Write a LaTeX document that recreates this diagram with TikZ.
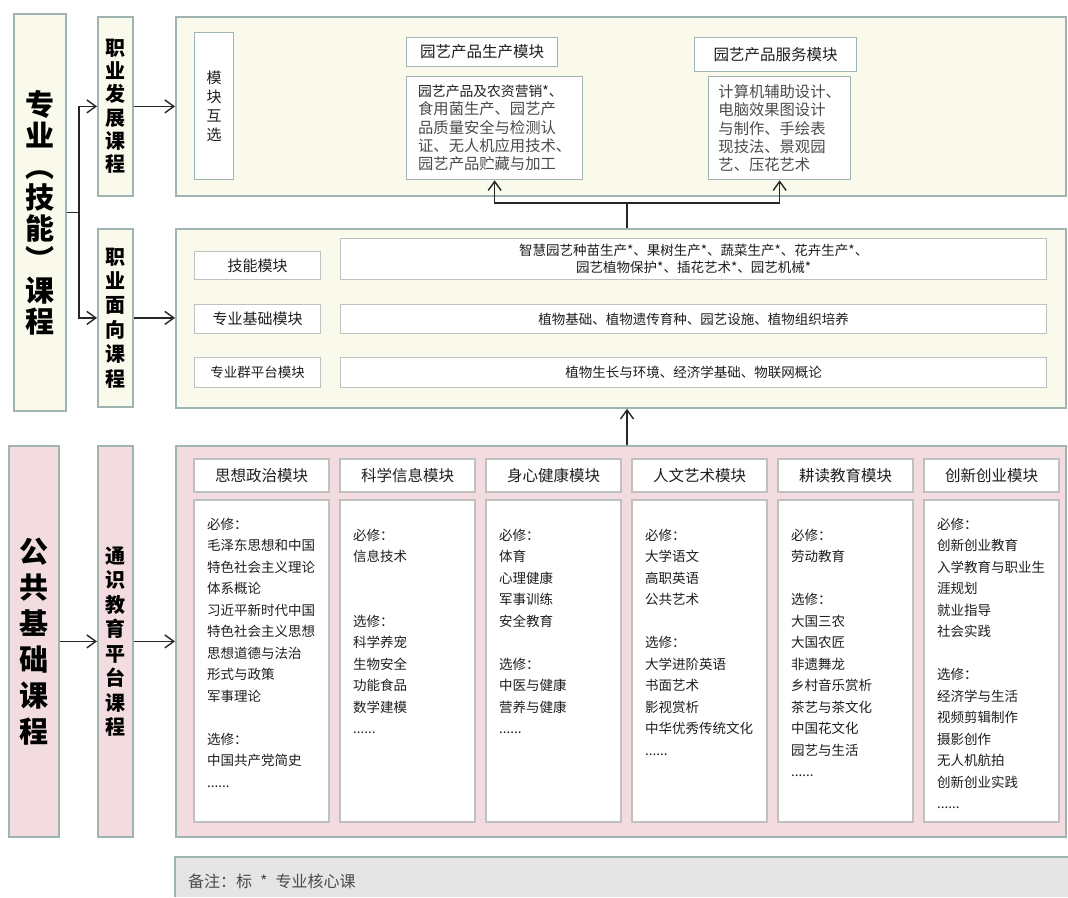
\documentclass[tikz,border=0pt]{standalone}
\usepackage{fontspec}
\setmainfont{Noto Sans CJK SC}
\usepackage{xcolor}
\usetikzlibrary{arrows.meta,positioning}
\definecolor{ivory}{RGB}{250,250,236}
\definecolor{pinkbg}{RGB}{242,220,223}
\definecolor{frame}{RGB}{160,180,178}
\definecolor{boxline}{RGB}{192,192,192}
\definecolor{notebg}{RGB}{229,229,229}
\definecolor{txt}{RGB}{30,30,30}
\definecolor{soft}{RGB}{75,75,75}

\begin{document}
\begin{tikzpicture}[x=1pt, y=-1pt, node distance=146pt,
  >={Straight Barb[length=9pt,width=13pt]},
  every node/.style={inner sep=0pt, text=txt},
  panel/.style={draw=frame, line width=1.8pt, anchor=north west},
  vlabel/.style={panel, align=center, text=black},
  subbox/.style={draw=frame, line width=1.3pt, fill=white, anchor=north west, align=left, font=\fontsize{15.5}{18}\selectfont},
  rowbox/.style={draw=boxline, line width=1.3pt, fill=white, anchor=north west, align=center, font=\fontsize{13.5}{17}\selectfont},
  colhead/.style={draw=boxline, line width=1.3pt, fill=white, minimum width=135pt, minimum height=33pt, font=\fontsize{15.5}{18}\selectfont},
  colbody/.style={draw=boxline, line width=1.3pt, fill=white, minimum width=135pt, minimum height=322pt},
  coursetext/.style={anchor=north west, align=left, font=\fontsize{13.5}{21.5}\selectfont},
  link/.style={->, line width=1.4pt, black!85}]
\useasboundingbox (0,0) rectangle (1068,897);

% professional courses
\node[vlabel, fill=ivory, minimum width=52pt, minimum height=397pt, font=\bfseries\fontsize{29}{31}\selectfont] (major) at (13,13) {专\\业\\︵\\技\\能\\︶\\课\\程};
\node[vlabel, fill=ivory, minimum width=35pt, minimum height=179pt, font=\bfseries\fontsize{20}{23.3}\selectfont] (devcourse) at (97,16) {职\\业\\发\\展\\课\\程};
\node[vlabel, fill=ivory, minimum width=35pt, minimum height=178pt, font=\bfseries\fontsize{20}{24.4}\selectfont] (jobcourse) at (97,228) {职\\业\\面\\向\\课\\程};
\node[panel, fill=ivory, minimum width=890pt, minimum height=179pt] (devpanel) at (175,16) {};
\node[panel, fill=ivory, minimum width=890pt, minimum height=179pt] (jobpanel) at (175,228) {};

% public courses
\node[vlabel, fill=pinkbg, minimum width=50pt, minimum height=391pt, font=\bfseries\fontsize{29}{36}\selectfont] (pub) at (8,445) {公\\共\\基\\础\\课\\程};
\node[vlabel, fill=pinkbg, minimum width=35pt, minimum height=391pt, font=\bfseries\fontsize{20}{24.5}\selectfont] (general) at (97,445) {通\\识\\教\\育\\平\\台\\课\\程};
\node[panel, fill=pinkbg, minimum width=890pt, minimum height=391pt] (genpanel) at (175,445) {};

% career development modules
\node[subbox, minimum width=39pt, minimum height=147pt, align=center, font=\fontsize{15}{19}\selectfont] (select) at (194,32) {模\\块\\互\\选};
\node[subbox, minimum width=151pt, minimum height=29pt] (prodhead) at (406,37) {园艺产品生产模块};
\node[subbox, minimum width=176pt, minimum height=103pt, font=\fontsize{15.3}{18.3}\selectfont, text=soft] (prodbody) at (406,76) {{\fontsize{13.8}{18.3}\selectfont\textcolor{txt}{园艺产品及农资营销*、}}\\食用菌生产、园艺产\\品质量安全与检测认\\证、无人机应用技术、\\园艺产品贮藏与加工};
\node[subbox, minimum width=162pt, minimum height=34pt] (servhead) at (694,37) {园艺产品服务模块};
\node[subbox, minimum width=142pt, minimum height=103pt, font=\fontsize{15.3}{18.3}\selectfont, text=soft] (servbody) at (708,76) {计算机辅助设计、\\电脑效果图设计\\与制作、手绘表\\现技法、景观园\\艺、压花艺术};

% job oriented modules
\node[rowbox, minimum width=126pt, minimum height=28pt, font=\fontsize{15}{18}\selectfont] (skill) at (194,251) {技能模块};
\node[rowbox, minimum width=706pt, minimum height=41pt] (skillbody) at (340,238) {智慧园艺种苗生产*、果树生产*、蔬菜生产*、花卉生产*、\\园艺植物保护*、插花艺术*、园艺机械*};
\node[rowbox, minimum width=126pt, minimum height=29pt, font=\fontsize{15}{18}\selectfont] (base) at (194,304) {专业基础模块};
\node[rowbox, minimum width=706pt, minimum height=29pt] (basebody) at (340,304) {植物基础、植物遗传育种、园艺设施、植物组织培养};
\node[rowbox, minimum width=126pt, minimum height=30pt] (plat) at (194,357) {专业群平台模块};
\node[rowbox, minimum width=706pt, minimum height=30pt] (platbody) at (340,357) {植物生长与环境、经济学基础、物联网概论};

% general education modules
\node[colhead] (h1) at (261.5,475.5) {思想政治模块};
\node[colhead, right of=h1] (h2) {科学信息模块};
\node[colhead, right of=h2] (h3) {身心健康模块};
\node[colhead, right of=h3] (h4) {人文艺术模块};
\node[colhead, right of=h4] (h5) {耕读教育模块};
\node[colhead, right of=h5] (h6) {创新创业模块};
\node[colbody] (b1) at (261.5,661) {};
\node[colbody, right of=b1] (b2) {};
\node[colbody, right of=b2] (b3) {};
\node[colbody, right of=b3] (b4) {};
\node[colbody, right of=b4] (b5) {};
\node[colbody, right of=b5] (b6) {};
\node[coursetext] (l1) at (207,517.5) {必修：\\毛泽东思想和中国\\特色社会主义理论\\体系概论\\习近平新时代中国\\特色社会主义思想\\思想道德与法治\\形式与政策\\军事理论\\[21.5pt]选修：\\中国共产党简史\\......};
\node[coursetext] (l2) at (353,528.5) {必修：\\信息技术\\[43pt]选修：\\科学养宠\\生物安全\\功能食品\\数学建模\\......};
\node[coursetext] (l3) at (499,528.5) {必修：\\体育\\心理健康\\军事训练\\安全教育\\[21.5pt]选修：\\中医与健康\\营养与健康\\......};
\node[coursetext] (l4) at (645,528.5) {必修：\\大学语文\\高职英语\\公共艺术\\[21.5pt]选修：\\大学进阶英语\\书面艺术\\影视赏析\\中华优秀传统文化\\......};
\node[coursetext] (l5) at (791,528.5) {必修：\\劳动教育\\[21.5pt]选修：\\大国三农\\大国农匠\\非遗舞龙\\乡村音乐赏析\\茶艺与茶文化\\中国花文化\\园艺与生活\\......};
\node[coursetext] (l6) at (937,517.5) {必修：\\创新创业教育\\入学教育与职业生\\涯规划\\就业指导\\社会实践\\[21.5pt]选修：\\经济学与生活\\视频剪辑制作\\摄影创作\\无人机航拍\\创新创业实践\\......};

% note
\fill[notebg] (175,857) rectangle (1068,897);
\draw[frame, line width=1.8pt] (175,897) -- (175,857) -- (1068,857);
\node[anchor=west, font=\fontsize{16}{18}\selectfont, text=soft] (note) at (188,881) {备注：标\hspace{8pt}*\hspace{8pt}专业核心课};

% arrows
\coordinate (fork) at (627,203);
\draw[link] (major.east) -- ++(12,0) |- (devcourse.west);
\draw[link] (major.east) -- ++(12,0) |- (jobcourse.west);
\draw[link] (devcourse) -- (devpanel);
\draw[link] (jobcourse.east) -- (jobcourse.east -| jobpanel.west);
\draw[link] (pub) -- (general);
\draw[link] (general) -- (genpanel);
\draw[link] (genpanel.north -| fork) -- (jobpanel.south -| fork);
\draw[line width=1.4pt, black!85] (jobpanel.north -| fork) -- (fork);
\draw[link] (fork) -| (prodbody.south);
\draw[link] (fork) -| (servbody.south);
\end{tikzpicture}
\end{document}
